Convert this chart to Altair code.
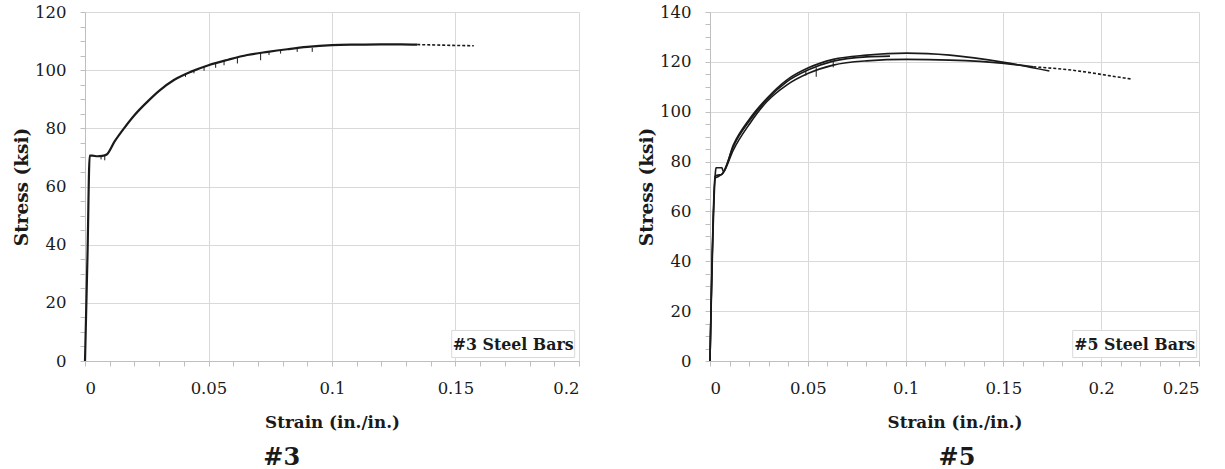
import altair as alt
import pandas as pd

# ---------------- #3 bars (left panel) ----------------
S3_STRAIN = [0, 0.0010, 0.0019, 0.0030, 0.0050, 0.0070, 0.0088, 0.0120, 0.0158, 0.0200,
             0.0252, 0.0300, 0.0360, 0.0430, 0.0500, 0.0580, 0.0657, 0.0740, 0.0819,
             0.0900, 0.1000, 0.1100, 0.1196, 0.1280, 0.1345]
S3_STRESS = [0, 36.0, 70.6, 70.6, 70.4, 70.5, 71.0, 75.5, 80.0, 84.5,
             89.1, 92.9, 96.6, 99.5, 101.7, 103.6, 105.2, 106.3, 107.2,
             108.0, 108.6, 108.8, 108.9, 108.9, 108.8]
S3_TAIL_STRAIN = [0.1345, 0.1400, 0.1450, 0.1500, 0.1574]
S3_TAIL_STRESS = [108.8, 108.7, 108.6, 108.5, 108.4]
S3_SPIKE_STRAIN = [0.0065, 0.0080, 0.0407, 0.0441, 0.0482, 0.0529, 0.0563, 0.0617,
                   0.0711, 0.0745, 0.0792, 0.0859, 0.0920]
S3_SPIKE_TOP = [70.5, 70.6, 98.9, 100.0, 101.2, 102.3, 103.4, 104.3, 106.1, 106.3,
                106.9, 107.5, 107.7]
S3_SPIKE_BOTTOM = [69.3, 69.0, 97.7, 98.9, 99.8, 100.8, 101.7, 102.3, 103.4, 105.2,
                   105.7, 106.3, 106.3]

# ---------------- #5 bars (right panel) ----------------
S5_A_STRAIN = [0, 0.0026, 0.0035, 0.0060, 0.0068, 0.0119, 0.0204, 0.0290, 0.0392,
               0.0503, 0.0630, 0.0800, 0.0920]
S5_A_STRESS = [0, 74.0, 74.5, 74.8, 75.7, 86.0, 96.6, 104.8, 112.0,
               116.8, 120.3, 122.0, 122.3]
S5_B_STRAIN = [0, 0.0028, 0.0031, 0.0061, 0.0068, 0.0119, 0.0204, 0.0290, 0.0392,
               0.0503, 0.0630, 0.0801, 0.1006, 0.1227, 0.1503, 0.1735]
S5_B_STRESS = [0, 76.0, 77.5, 77.5, 76.0, 86.6, 97.3, 105.3, 112.7,
               117.6, 121.0, 122.7, 123.5, 122.7, 119.8, 116.3]
S5_C_STRAIN = [0, 0.0027, 0.0040, 0.0068, 0.0119, 0.0204, 0.0290, 0.0392, 0.0503,
               0.0630, 0.0801, 0.1006, 0.1227, 0.1503, 0.1653]
S5_C_STRESS = [0, 73.5, 73.9, 75.5, 84.6, 95.3, 104.0, 110.7, 115.4,
               118.7, 120.4, 121.0, 120.7, 119.4, 118.0]
S5_C_TAIL_STRAIN = [0.1653, 0.1824, 0.2096, 0.2156]
S5_C_TAIL_STRESS = [118.0, 116.9, 113.8, 113.1]
S5_SPIKE_STRAIN = [0.0490, 0.0543, 0.0630]
S5_SPIKE_TOP = [116.3, 117.8, 120.3]
S5_SPIKE_BOTTOM = [114.5, 114.0, 117.8]

# ---------------- axes ticks ----------------
X3_MAJOR = [0, 0.05, 0.1, 0.15, 0.2]
Y3_MAJOR = [0, 20, 40, 60, 80, 100, 120]
X5_MAJOR = [0, 0.05, 0.1, 0.15, 0.2, 0.25]
Y5_MAJOR = [0, 20, 40, 60, 80, 100, 120, 140]
X3_TICKS = [round(i * 0.01, 2) for i in range(21)]
Y3_TICKS = list(range(0, 121, 5))
X5_TICKS = [round(i * 0.01, 2) for i in range(26)]
Y5_TICKS = list(range(0, 141, 5))

FONT = "DejaVu Serif"
GRID = "#d9d9d9"
AXIS_GRAY = "#bfbfbf"
INK = "#1a1a1a"


def make_axis(title, ticks, step, orient, title_size, label_pad, title_pad):
    test = f"abs(datum.value/{step} - round(datum.value/{step})) < 1e-6"
    return alt.Axis(
        values=ticks,
        title=title,
        orient=orient,
        labelExpr=f"{test} ? format(datum.value, '~g') : ''",
        labelOverlap=False,
        labelFont=FONT,
        labelFontSize=16.5,
        labelColor=INK,
        labelPadding=label_pad,
        titleFont=FONT,
        titleFontSize=title_size,
        titleFontWeight="bold",
        titleColor=INK,
        titlePadding=title_pad,
        tickSize=5,
        tickColor=AXIS_GRAY,
        domainColor=AXIS_GRAY,
        gridColor={"condition": {"test": test, "value": GRID}, "value": "transparent"},
        grid=True,
    )


def panel(curves, tail, spikes, x_dom, y_dom, x_ticks, y_ticks, x_step, y_step,
          w, h, box_label, box_x1, box_x2, caption, cap_x, lw):
    xs = alt.Scale(domain=x_dom, nice=False, zero=True)
    ys = alt.Scale(domain=y_dom, nice=False)
    xa = make_axis("Strain (in./in.)", x_ticks, x_step, "bottom", 16.8, 14, 18)
    ya = make_axis("Stress (ksi)", y_ticks, y_step, "left", 18.5, 14, 3)

    lines = alt.Chart(curves).mark_line(color=INK, strokeWidth=lw, interpolate="monotone").encode(
        x=alt.X("strain:Q", scale=xs, axis=xa),
        y=alt.Y("stress:Q", scale=ys, axis=ya),
        detail="spec:N",
        order="idx:Q",
    )
    tail_l = alt.Chart(tail).mark_line(color=INK, strokeWidth=1.6, strokeDash=[3, 2],
                                       interpolate="monotone").encode(
        x=alt.X("strain:Q", scale=xs, axis=xa),
        y=alt.Y("stress:Q", scale=ys, axis=ya),
        order="idx:Q",
    )
    spk = alt.Chart(spikes).mark_rule(color=INK, strokeWidth=1).encode(
        x=alt.X("strain:Q", scale=xs, axis=xa),
        y=alt.Y("top:Q", scale=ys, axis=ya),
        y2="bottom:Q",
    )
    lab = pd.DataFrame({"t": [box_label]})
    box = alt.Chart(lab).mark_rect(fill="white", stroke=GRID, strokeWidth=1).encode(
        x=alt.value(box_x1), x2=alt.value(box_x2),
        y=alt.value(h - 30.5), y2=alt.value(h - 3.5),
    )
    box_t = alt.Chart(lab).mark_text(
        font=FONT, fontSize=15.8, fontWeight="bold", color=INK, align="center", baseline="middle"
    ).encode(
        x=alt.value((box_x1 + box_x2) / 2), y=alt.value(h - 16.5), text="t:N"
    )
    cap = alt.Chart(pd.DataFrame({"c": [caption]})).mark_text(
        font=FONT, fontSize=24, fontWeight="bold", color=INK, align="center", baseline="alphabetic"
    ).encode(x=alt.value(cap_x), y=alt.value(h + 104), text="c:N")
    return alt.layer(lines, tail_l, spk, box, box_t, cap).properties(width=w, height=h)


def curve_df(pairs):
    rows = []
    for name, xs, ys in pairs:
        for i, (a, b) in enumerate(zip(xs, ys)):
            rows.append({"spec": name, "idx": i, "strain": a, "stress": b})
    return pd.DataFrame(rows)


left_curves = curve_df([("3", S3_STRAIN, S3_STRESS)])
left_tail = curve_df([("3t", S3_TAIL_STRAIN, S3_TAIL_STRESS)])
left_spikes = pd.DataFrame({"strain": S3_SPIKE_STRAIN, "top": S3_SPIKE_TOP, "bottom": S3_SPIKE_BOTTOM})

right_curves = curve_df([("A", S5_A_STRAIN, S5_A_STRESS),
                         ("B", S5_B_STRAIN, S5_B_STRESS),
                         ("C", S5_C_STRAIN, S5_C_STRESS)])
right_tail = curve_df([("Ct", S5_C_TAIL_STRAIN, S5_C_TAIL_STRESS)])
right_spikes = pd.DataFrame({"strain": S5_SPIKE_STRAIN, "top": S5_SPIKE_TOP, "bottom": S5_SPIKE_BOTTOM})

left = panel(left_curves, left_tail, left_spikes, [0, 0.2], [0, 120], X3_TICKS, Y3_TICKS,
             0.05, 20, 494, 349, "#3 Steel Bars", 366.7, 489.7, "#3", 196.7, 2.2)
right = panel(right_curves, right_tail, right_spikes, [0, 0.25], [0, 140], X5_TICKS, Y5_TICKS,
              0.05, 20, 489, 349, "#5 Steel Bars", 362.7, 486.7, "#5", 247, 1.6)

chart = alt.hconcat(left, right, spacing=57).properties(
    padding={"left": 12, "top": 3, "right": 0, "bottom": 0},
    background="white",
).configure_view(stroke="transparent")

chart.save("out.html", embed_options={"renderer": "svg", "actions": False})
